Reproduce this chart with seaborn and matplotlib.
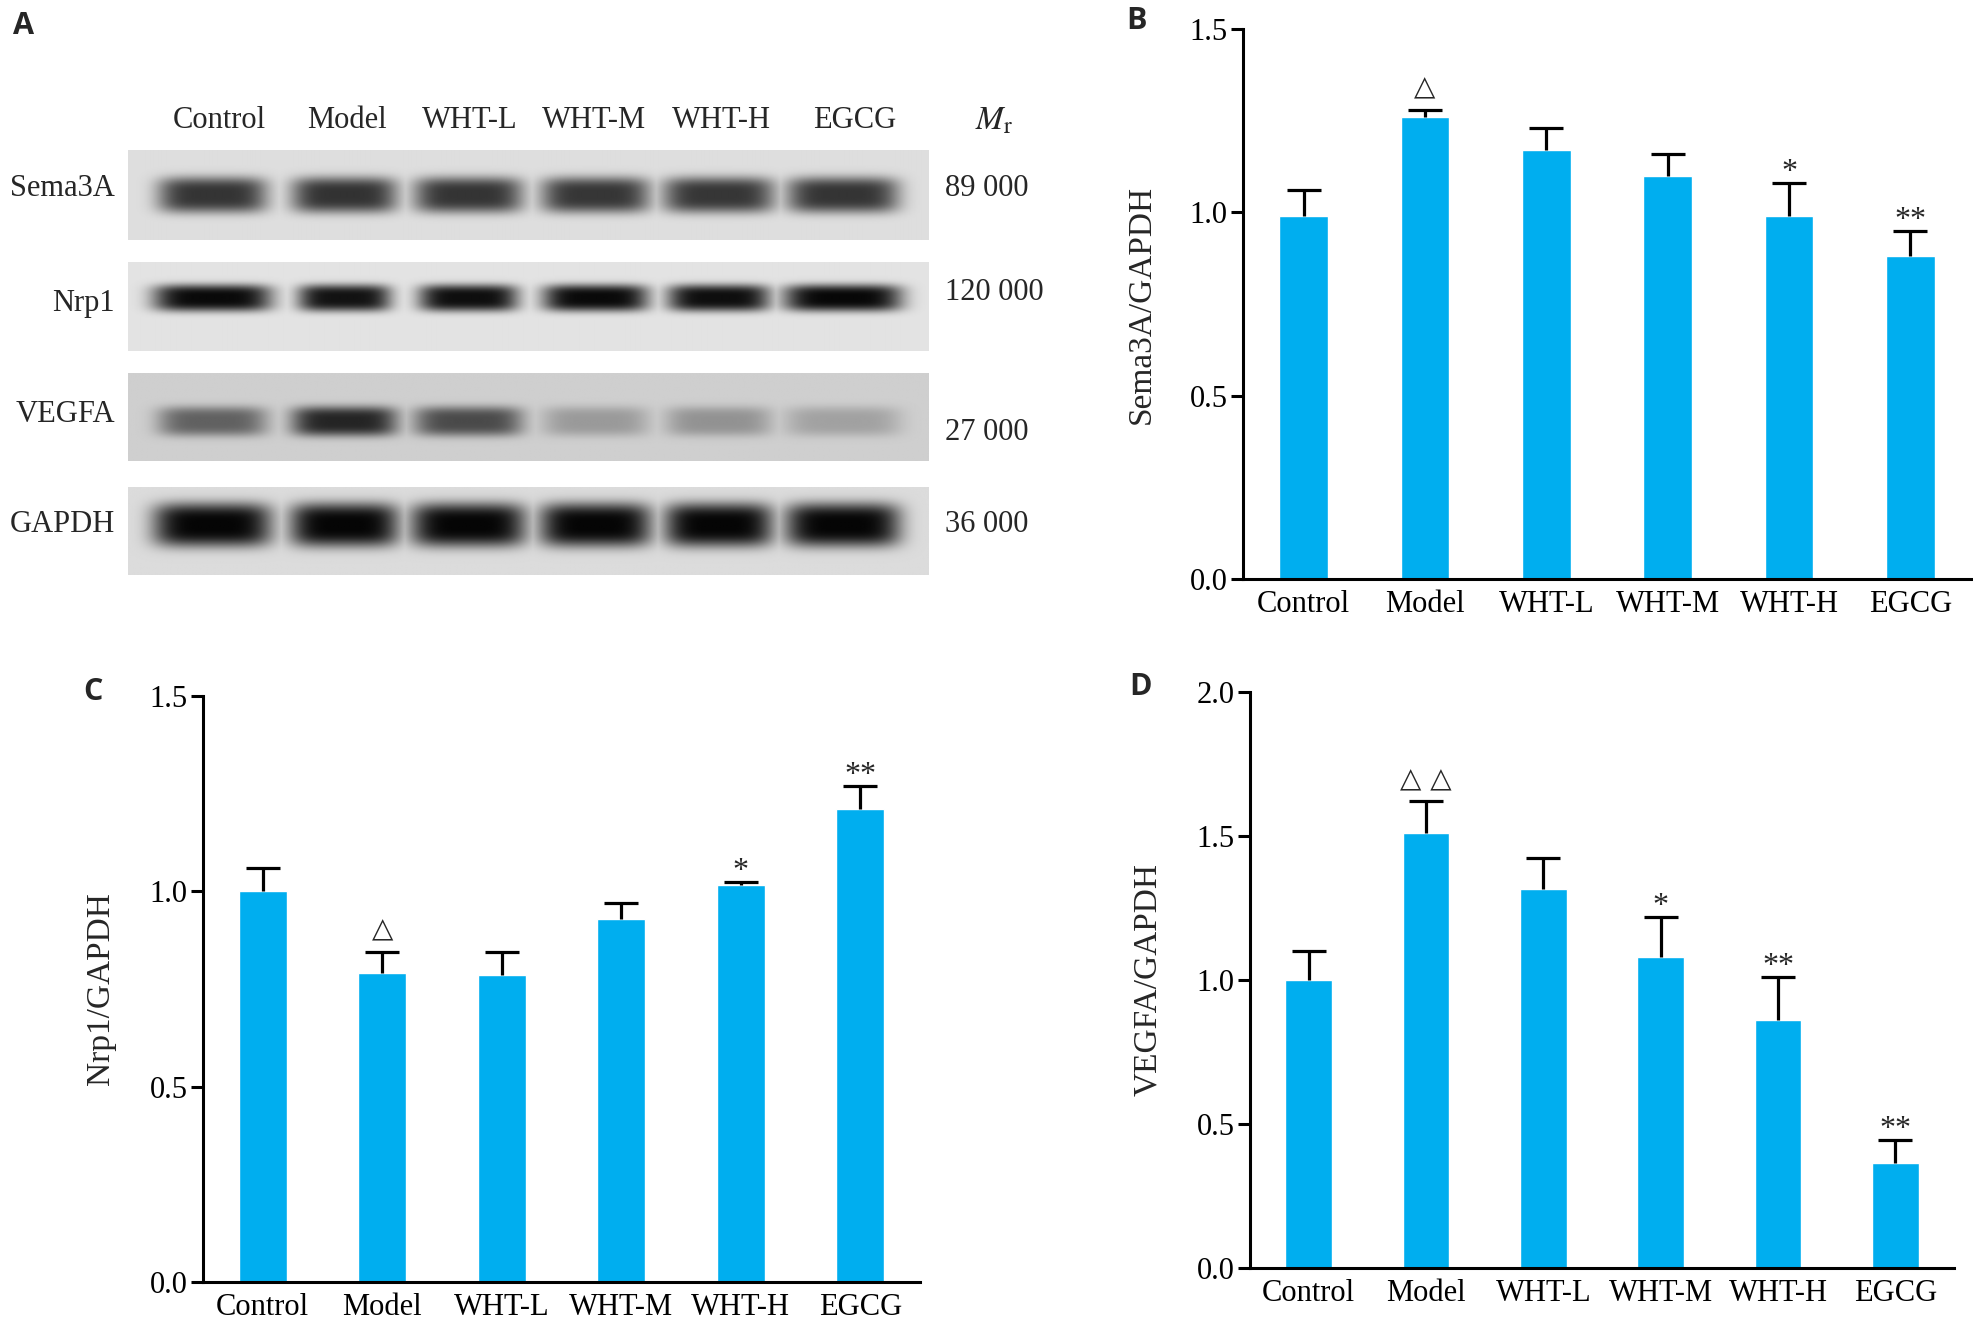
import matplotlib
matplotlib.use('Agg')
import matplotlib.pyplot as plt
import seaborn as sns
import pandas as pd
import numpy as np

# -------------------------------
# data
# -------------------------------
groups = ['Control', 'Model', 'WHT-L', 'WHT-M', 'WHT-H', 'EGCG']

sema3a_mean = [0.99, 1.26, 1.17, 1.10, 0.99, 0.88]
sema3a_sd = [0.07, 0.02, 0.06, 0.06, 0.09, 0.07]
sema3a_sig = ['', '△', '', '', '*', '**']

nrp1_mean = [1.00, 0.79, 0.785, 0.93, 1.015, 1.21]
nrp1_sd = [0.06, 0.055, 0.06, 0.04, 0.01, 0.06]
nrp1_sig = ['', '△', '', '', '*', '**']

vegfa_mean = [1.00, 1.51, 1.315, 1.08, 0.86, 0.365]
vegfa_sd = [0.10, 0.11, 0.11, 0.14, 0.15, 0.08]
vegfa_sig = ['', '△ △', '', '*', '**', '**']

# western blot (panel A): band darkness per lane, 0 = none, 1 = black
blot_proteins = ['Sema3A', 'Nrp1', 'VEGFA', 'GAPDH']
blot_mr = ['89 000', '120 000', '27 000', '36 000']
band_sema3a = [0.95, 0.96, 0.95, 0.94, 0.94, 0.95]
band_nrp1 = [0.99, 0.95, 0.97, 0.99, 0.97, 1.0]
band_vegfa = [0.58, 0.9, 0.7, 0.28, 0.32, 0.24]
band_gapdh = [1.0, 1.0, 1.0, 1.0, 1.0, 1.0]

BLUE = '#00AEEF'

sns.set_theme(style='ticks')
plt.rcParams['font.family'] = ['Liberation Serif', 'DejaVu Sans']
plt.rcParams['mathtext.fontset'] = 'stix'

W, H = 1974, 1329
fig = plt.figure(figsize=(W / 100, H / 100), dpi=100)


def box(left, top, right, bottom):
    return [left / W, 1 - bottom / H, (right - left) / W, (bottom - top) / H]


def ftext(x, y, s, **kw):
    fig.text(x / W, 1 - y / H, s, **kw)


# -------------------------------
# panel A: blot strips
# -------------------------------
lane_x = [0.105, 0.270, 0.425, 0.584, 0.738, 0.893]
strip_rows = [(150, 240), (262, 351), (373, 461), (487, 575)]
strip_style = [
    # bg, ink, band centre, half height, half widths
    (0.87, 0.17, 0.50, 0.20, [0.068, 0.066, 0.068, 0.068, 0.070, 0.070]),
    (0.89, 0.03, 0.41, 0.15, [0.074, 0.058, 0.062, 0.066, 0.064, 0.074]),
    (0.81, 0.07, 0.55, 0.17, [0.068, 0.066, 0.068, 0.066, 0.066, 0.072]),
    (0.86, 0.02, 0.43, 0.25, [0.074, 0.068, 0.072, 0.070, 0.068, 0.072]),
]
band_values = [band_sema3a, band_nrp1, band_vegfa, band_gapdh]

xs = np.linspace(0, 1, 640)
ys = np.linspace(0, 1, 90)
X, Y = np.meshgrid(xs, ys)
for (top, bottom), (bg, ink, yc, wy, wxs), vals in zip(strip_rows, strip_style, band_values):
    ax = fig.add_axes(box(128, top, 929, bottom))
    dark = np.zeros_like(X)
    for xc, v, wx in zip(lane_x, vals, wxs):
        d = v * np.exp(-np.abs((X - xc) / wx) ** 5) * np.exp(-np.abs((Y - yc) / wy) ** 3.5)
        dark = np.maximum(dark, d)
    img = bg - (bg - ink) * dark
    ax.imshow(img, cmap='gray', vmin=0, vmax=1, aspect='auto',
              extent=(0, 1, 1, 0), interpolation='bilinear')
    ax.set_axis_off()

lane_label_x = [219, 347, 470, 594, 721, 855]
for g, x in zip(groups, lane_label_x):
    ftext(x, 121, g, ha='center', va='center', fontsize=22)
ftext(994, 121, r'$M_{\rm r}$', ha='center', va='center', fontsize=24)

for p, y in zip(blot_proteins, [188, 304, 415, 525]):
    ftext(115, y, p, ha='right', va='center', fontsize=22)
for m, y in zip(blot_mr, [188, 292, 433, 525]):
    ftext(945, y, m, ha='left', va='center', fontsize=22)


# -------------------------------
# bar panels B, C, D
# -------------------------------
def bar_panel(rect, mean, sd, sig, ymax, ylabel):
    ax = fig.add_axes(rect)
    df = pd.DataFrame({'group': groups, 'value': mean})
    sns.barplot(data=df, x='group', y='value', color=BLUE, width=0.4,
                saturation=1, errorbar=None, ax=ax, zorder=2)
    eb = ax.errorbar(np.arange(len(groups)), mean, yerr=[np.zeros(len(sd)), sd],
                     fmt='none', ecolor='black', elinewidth=2.3, capsize=12,
                     capthick=2.3, zorder=3)
    # only the upper cap is drawn in the original
    eb[1][0].set_visible(False)
    for i, s in enumerate(sig):
        if not s:
            continue
        top = mean[i] + sd[i]
        if '△' in s:
            ax.annotate(s, xy=(i, top), xytext=(0, 6), textcoords='offset points',
                        ha='center', va='bottom', fontsize=20,
                        family=['DejaVu Sans'])
        else:
            ax.annotate(s, xy=(i, top), xytext=(0, 2), textcoords='offset points',
                        ha='center', va='baseline', fontsize=23)
    ax.set_xlim(-0.5, len(groups) - 0.5)
    ax.set_ylim(0, ymax)
    ax.set_yticks(np.arange(0, ymax + 0.01, 0.5))
    ax.set_yticklabels(['%.1f' % t for t in np.arange(0, ymax + 0.01, 0.5)])
    ax.set_xlabel('')
    ax.set_ylabel(ylabel, fontsize=24, labelpad=24)
    sns.despine(ax=ax)
    for s in ['left', 'bottom']:
        ax.spines[s].set_linewidth(2.2)
        ax.spines[s].set_color('black')
    ax.tick_params(axis='y', length=9, width=2.2, pad=2, labelsize=22,
                   color='black', labelcolor='black')
    ax.tick_params(axis='x', length=0, pad=8, labelsize=22, labelcolor='black')
    ax.set_facecolor('white')
    return ax


bar_panel(box(1243, 29, 1971, 579), sema3a_mean, sema3a_sd, sema3a_sig, 1.5, 'Sema3A/GAPDH')
bar_panel(box(203, 696, 920, 1282), nrp1_mean, nrp1_sd, nrp1_sig, 1.5, 'Nrp1/GAPDH')
bar_panel(box(1250, 692, 1954, 1268), vegfa_mean, vegfa_sd, vegfa_sig, 2.0, 'VEGFA/GAPDH')

# panel letters
for letter, x, y in [('A', 13, 26), ('B', 1126, 21), ('C', 83, 692), ('D', 1129, 687)]:
    ftext(x, y, letter, ha='left', va='center', fontsize=22,
          fontweight='bold', family=['Open Sans', 'DejaVu Sans'])

fig.savefig('out.png', dpi=100, facecolor='white')
